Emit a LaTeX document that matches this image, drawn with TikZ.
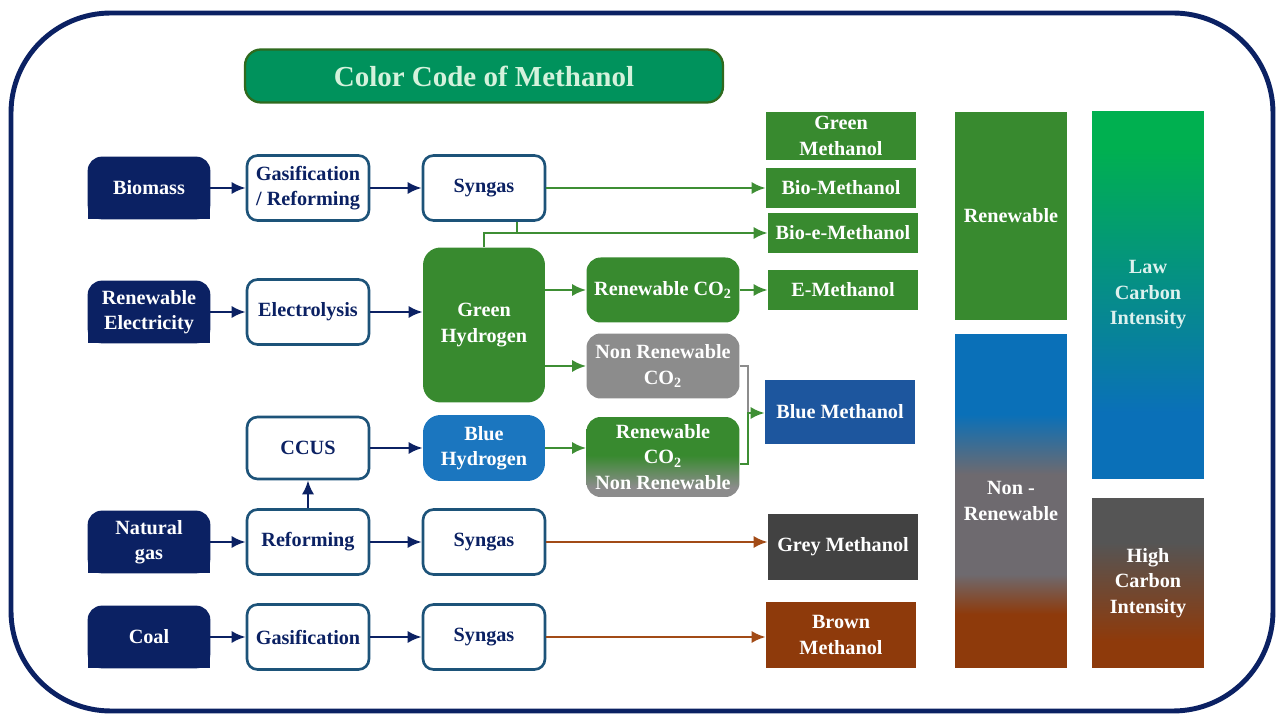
\documentclass[tikz,border=0pt]{standalone}
\usepackage{fontspec}
\setmainfont{Liberation Serif}
\usetikzlibrary{arrows.meta,backgrounds}

\definecolor{navy}{HTML}{0B2163}
\definecolor{procline}{HTML}{1D5379}
\definecolor{leaf}{HTML}{388A2F}
\definecolor{leafline}{HTML}{3E8E34}
\definecolor{hgray}{HTML}{8C8C8C}
\definecolor{hblue}{HTML}{1B76BF}
\definecolor{mblue}{HTML}{1D569E}
\definecolor{mgrey}{HTML}{424242}
\definecolor{rust}{HTML}{8E3A0B}
\definecolor{rustline}{HTML}{A24B16}
\definecolor{mint}{HTML}{00925C}
\definecolor{mintline}{HTML}{2F6A1E}
\definecolor{minttext}{HTML}{D4F2DC}
\definecolor{sky}{HTML}{0A70B8}
\definecolor{lime}{HTML}{00B050}
\definecolor{slate}{HTML}{6E6A6F}
\definecolor{ash}{HTML}{555555}
\definecolor{pale}{HTML}{DDF1EE}

\pgfdeclareverticalshading{nonrenew}{100bp}{color(0bp)=(rust); color(33bp)=(rust); color(39bp)=(slate); color(54bp)=(slate); color(63bp)=(sky); color(100bp)=(sky)}
\pgfdeclareverticalshading{lowcarb}{100bp}{color(0bp)=(sky); color(34bp)=(sky); color(70bp)=(lime); color(100bp)=(lime)}
\pgfdeclareverticalshading{highcarb}{100bp}{color(0bp)=(rust); color(33bp)=(rust); color(62bp)=(ash); color(100bp)=(ash)}
\pgfdeclareverticalshading{mixco}{100bp}{color(0bp)=(hgray); color(31bp)=(hgray); color(51bp)=(leaf); color(100bp)=(leaf)}

\tikzset{
  title/.style={fill=mint, draw=mintline, line width=1.3pt, rounded corners=9pt, text=minttext,
    minimum width=9.56cm, minimum height=1.06cm, font=\bfseries\fontsize{16.5}{20}\selectfont},
  src/.style={text=white, minimum width=2.44cm, minimum height=1.24cm, align=center, inner sep=1pt},
  proc/.style={draw=procline, line width=1.5pt, fill=white, rounded corners=6pt, text=navy,
    minimum width=2.44cm, minimum height=1.3cm, align=center, inner sep=1pt},
  hydro/.style={rounded corners=10pt, text=white, minimum width=2.44cm, align=center, inner sep=1pt},
  co2/.style={rounded corners=8pt, text=white, minimum width=3.06cm, minimum height=1.3cm, align=center, inner sep=1pt},
  meth/.style={text=white, minimum width=3cm, align=center, inner sep=1pt},
  band/.style={text=white, minimum width=2.24cm, align=center},
  navyarrow/.style={color=navy, line width=1.5pt, -{Latex[length=8pt,width=7pt]}},
  leafarrow/.style={color=leafline, line width=1.5pt, -{Latex[length=8pt,width=7pt]}},
  leafline/.style={color=leafline, line width=1.5pt},
  rustarrow/.style={color=rustline, line width=1.5pt, -{Latex[length=8pt,width=7pt]}},
  grayline/.style={color=hgray, line width=1.1pt}
}

\begin{document}
\begin{tikzpicture}[x=0.02cm, y=-0.02cm, font=\bfseries\fontsize{11.5}{14.5}\selectfont]
  \useasboundingbox (0,0) rectangle (1279,715);
  \draw [navy, line width=2.8pt, rounded corners=2cm] (11,13) rectangle (1273,711);
  \node [title] (title) at (484,76) {Color Code of Methanol};

  \node [src] (biomass) at (149,188) {Biomass};
  \node [src] (elec) at (149,312) {Renewable\\Electricity};
  \node [src] (gas) at (149,542) {Natural\\gas};
  \node [src] (coal) at (149,637) {Coal};
  \begin{scope}[on background layer]
    \foreach \n in {biomass,elec,gas,coal} {
      \fill [navy, rounded corners=8pt] (\n.south west) rectangle (\n.north east);
      \fill [navy] (\n.south west) rectangle (\n.east);
    }
  \end{scope}

  \node [proc] (gasref) at (308,188) {Gasification\\/ Reforming};
  \node [proc] (electro) at (308,312) {Electrolysis};
  \node [proc, minimum height=1.24cm] (ccus) at (308,448) {CCUS};
  \node [proc] (reform) at (308,542) {Reforming};
  \node [proc] (gasif) at (308,637) {Gasification};
  \node [proc] (syn_1) at (484,188) {Syngas};
  \node [proc] (syn_2) at (484,542) {Syngas};
  \node [proc] (syn_3) at (484,637) {Syngas};

  \node [hydro, fill=leaf, minimum height=3.1cm] (h_green) at (484,325) {Green\\Hydrogen};
  \node [hydro, fill=hblue, minimum height=1.32cm] (h_blue) at (484,448) {Blue\\Hydrogen};

  \node [co2, fill=leaf] (co2_r) at (663,290) {Renewable CO\textsubscript{2}};
  \node [co2, fill=hgray] (co2_n) at (663,366) {Non Renewable\\CO\textsubscript{2}};
  \node [co2, shade, shading=mixco, minimum height=1.6cm] (co2_m) at (663,457) {Renewable\\CO\textsubscript{2}\\Non Renewable};

  \node [meth, fill=leaf, minimum height=0.96cm] (m_green) at (841,136) {Green\\Methanol};
  \node [meth, fill=leaf, minimum height=0.8cm] (m_bio) at (841,188) {Bio-Methanol};
  \node [meth, fill=leaf, minimum height=0.8cm] (m_bioe) at (843,233) {Bio-e-Methanol};
  \node [meth, fill=leaf, minimum height=0.8cm] (m_e) at (843,290) {E-Methanol};
  \node [meth, fill=mblue, minimum height=1.3cm] (m_blue) at (840,412) {Blue Methanol};
  \node [meth, fill=mgrey, minimum height=1.32cm] (m_grey) at (843,547) {Grey Methanol};
  \node [meth, fill=rust, minimum height=1.32cm] (m_brown) at (841,635) {Brown\\Methanol};

  \node [band, fill=leaf, minimum height=4.18cm] (renew) at (1011,216) {Renewable};
  \node [band, shade, shading=nonrenew, minimum height=6.66cm] (nonrenew) at (1011,501) {Non -\\Renewable};
  \node [band, shade, shading=lowcarb, minimum height=7.36cm, text=pale] (lowci) at (1148,295) {Law\\Carbon\\Intensity};
  \node [band, shade, shading=highcarb, minimum height=3.4cm] (highci) at (1148,583) {High\\Carbon\\Intensity};

  \path [navyarrow]
    (biomass) edge (gasref)
    (gasref) edge (syn_1)
    (elec) edge (electro)
    (electro.east) edge (electro.east -| h_green.west)
    (ccus) edge (h_blue)
    (reform) edge (ccus)
    (gas) edge (reform)
    (reform) edge (syn_2)
    (coal) edge (gasif)
    (gasif) edge (syn_3);

  \path [leafarrow]
    (syn_1) edge (syn_1 -| m_bio.west)
    (h_green.east |- co2_r) edge (co2_r)
    (co2_r) edge (m_e)
    (h_green.east |- co2_n) edge (co2_n)
    (h_blue) edge (h_blue -| co2_m.west);

  \coordinate (tap) at (517,233);
  \draw [leafline] (tap |- syn_1.south) -- (tap);
  \draw [leafarrow] (h_green.north) |- (tap -| m_bioe.west);

  \coordinate (join) at (748,413);
  \draw [grayline] (co2_n.east) -| (join);
  \draw [leafarrow] ([yshift=-0.14cm]co2_m.east) -| (join) -- (join -| m_blue.west);

  \path [rustarrow]
    (syn_2) edge (syn_2 -| m_grey.west)
    (syn_3) edge (syn_3 -| m_brown.west);
\end{tikzpicture}
\end{document}
